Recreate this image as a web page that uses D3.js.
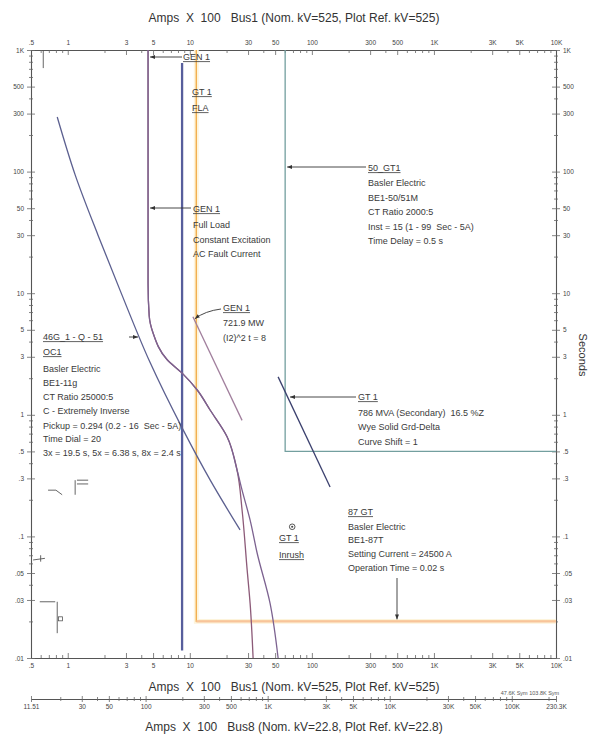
<!DOCTYPE html>
<html>
<head>
<meta charset="utf-8">
<script src="https://cdn.jsdelivr.net/npm/d3@7"></script>
<style>
  body { margin: 0; background: #fff; }
  svg { font-family: "Liberation Sans", Arial, sans-serif; }
</style>
</head>
<body>
<div id="graph"></div>
<script>
// Data ////////////////////////////////////////////////////////////////////
// Currents are Amps X 100 on Bus1 (525 kV), times in seconds
const kvRatio = 525 / 22.8;

const xTickValues = [0.5, 1, 3, 5, 10, 30, 50, 100, 300, 500, 1000, 3000, 5000, 10000];
const xTickLabels = [".5", "1", "3", "5", "10", "30", "50", "100", "300", "500", "1K", "3K", "5K", "10K"];

const yTickValues = [0.01, 0.03, 0.05, 0.1, 0.3, 0.5, 1, 3, 5, 10, 30, 50, 100, 300, 500, 1000];
const yTickLabels = [".01", ".03", ".05", ".1", ".3", ".5", "1", "3", "5", "10", "30", "50", "100", "300", "500", "1K"];

const bus8TickValues = [11.51, 30, 50, 100, 300, 500, 1000, 3000, 5000, 10000, 30000, 50000, 100000, 230300];
const bus8TickLabels = ["11.51", "30", "50", "100", "300", "500", "1K", "3K", "5K", "10K", "30K", "50K", "100K", "230.3K"];

// GEN 1 full load, constant excitation (two decrement curves sharing the top)
const gen1Common = [[4.55, 1000], [4.55, 12], [4.65, 6.5], [5.0, 4.7], [6.5, 2.85], [8.65, 2.2], [11.5, 1.6], [14.7, 1.09], [20.2, 0.66], [24.4, 0.35]];
const gen1BranchA = [[26.8, 0.165], [29.5, 0.053], [31.2, 0.028], [33, 0.01]];
const gen1BranchB = [[26.8, 0.24], [31.2, 0.136], [35.6, 0.073], [45.5, 0.028], [52.9, 0.01]];

// GEN 1 I2t = 8 damage
const gen1Damage = [[10.6, 6.4], [26.8, 0.9]];

// GT 1 damage curve
const gt1Damage = [[52.9, 2.05], [141, 0.255]];

// GT 1 FLA
const gt1Fla = [[8.644, 780], [8.644, 0.0115]];

// 46G_1 - Q - 51 OC1 extremely inverse
const oc1Curve = [[0.82, 281], [1.15, 94], [1.77, 30], [2.68, 10.6], [4.72, 2.7], [8.65, 0.78], [14.7, 0.29], [25.8, 0.113]];

// 50_GT1 instantaneous
const relay50 = [[60.4, 1000], [60.4, 0.5], [10000, 0.5]];

// 87 GT differential
const relay87 = [[11.3, 1000], [11.3, 0.02], [10000, 0.02]];

// GT 1 inrush point
const inrushPoint = [69, 0.12];

// small marks near the left axis
const smallMarks = [
  [[0.63, 1000], [0.63, 710]],
  [[0.69, 0.24], [0.8, 0.24]],
  [[0.8, 0.24], [0.9, 0.22]],
  [[1.15, 0.29], [1.15, 0.22]],
  [[1.19, 0.29], [1.47, 0.29]],
  [[1.19, 0.27], [1.47, 0.27]],
  [[0.52, 0.064], [0.65, 0.066]],
  [[0.6, 0.07], [0.6, 0.062]],
  [[0.59, 0.029], [0.79, 0.029]],
  [[0.82, 0.029], [0.82, 0.016]]
];

// Labels
const gen1TopLabel = ["GEN 1"];
const gt1FlaLabel = ["GT 1", "FLA"];
const gen1FullLabel = ["GEN 1", "Full Load", "Constant Excitation", "AC Fault Current"];
const gen1DamageLabel = ["GEN 1", "721.9 MW", "(I2)^2 t = 8"];
const relay50Label = ["50_GT1", "Basler Electric", "BE1-50/51M", "CT Ratio 2000:5", "Inst = 15 (1 - 99  Sec - 5A)", "Time Delay = 0.5 s"];
const gt1DamageLabel = ["GT 1", "786 MVA (Secondary)  16.5 %Z", "Wye Solid Grd-Delta", "Curve Shift = 1"];
const oc1Label = ["46G_1 - Q - 51", "OC1", "Basler Electric", "BE1-11g", "CT Ratio 25000:5", "C - Extremely Inverse", "Pickup = 0.294 (0.2 - 16  Sec - 5A)", "Time Dial = 20", "3x = 19.5 s, 5x = 6.38 s, 8x = 2.4 s"];
const relay87Label = ["87 GT", "Basler Electric", "BE1-87T", "Setting Current = 24500 A", "Operation Time = 0.02 s"];
const inrushLabel = ["GT 1", "Inrush"];

// Constants ////////////////////////////////////////////////////////////////
const svgWidth = 591;
const svgHeight = 735;
const plot = { left: 31, right: 556, top: 50, bottom: 658 };
const textColor = "#3a3a3a";

const svg = d3
  .select("#graph")
  .append("svg")
  .attr("width", svgWidth)
  .attr("height", svgHeight);

const x = d3.scaleLog().domain([0.5, 10000]).range([plot.left, plot.right]);
const y = d3.scaleLog().domain([0.01, 1000]).range([plot.bottom, plot.top]);
const x8 = d3.scaleLog().domain([0.5 * kvRatio, 10000 * kvRatio]).range([plot.left, plot.right]);

const defs = svg.append("defs");
defs.append("clipPath").attr("id", "plotClip")
  .append("rect")
  .attr("x", plot.left).attr("y", plot.top)
  .attr("width", plot.right - plot.left).attr("height", plot.bottom - plot.top);

defs.append("marker")
  .attr("id", "arrow")
  .attr("viewBox", "0 0 10 10")
  .attr("refX", 10).attr("refY", 5)
  .attr("markerWidth", 5).attr("markerHeight", 5)
  .attr("markerUnits", "userSpaceOnUse")
  .attr("orient", "auto")
  .append("path")
  .attr("d", "M0,1 L10,5 L0,9 Z")
  .attr("fill", "#333");

// Axes /////////////////////////////////////////////////////////////////////
function logTicks(lo, hi) {
  const out = [];
  for (let e = -3; e <= 6; e++) {
    for (let k = 1; k <= 9; k++) {
      const v = +(k * Math.pow(10, e)).toPrecision(3);
      if (v >= lo * 0.999 && v <= hi * 1.001) out.push(v);
    }
  }
  return out;
}

function labeler(values, labels) {
  return d => {
    const i = values.findIndex(v => Math.abs(v / d - 1) < 1e-3);
    return i >= 0 ? labels[i] : "";
  };
}

const fmtX = labeler(xTickValues, xTickLabels);
const fmtY = labeler(yTickValues, yTickLabels);
const fmt8 = labeler(bus8TickValues, bus8TickLabels);

function styleAxis(g) {
  g.select(".domain").attr("stroke", "#555").attr("stroke-width", 1.1);
  g.selectAll(".tick line").attr("stroke", "#666").attr("stroke-width", 0.8);
  g.selectAll(".tick text")
    .attr("fill", "#444")
    .style("font-size", "6.5px")
    .style("font-family", "\"Liberation Sans\", Arial, sans-serif");
}

const xMinor = logTicks(0.5, 10000);
const yMinor = logTicks(0.01, 1000);
const bus8Minor = [11.51].concat(logTicks(20, 200000)).concat([230300]);

// top
svg.append("g")
  .attr("transform", `translate(0,${plot.top})`)
  .call(d3.axisTop(x).tickValues(xMinor).tickSizeInner(-3).tickSizeOuter(0).tickPadding(5.5).tickFormat(fmtX))
  .call(styleAxis)
  .call(g => g.selectAll(".tick").filter(d => fmtX(d) !== "").select("line").attr("y2", 5));

// bottom
svg.append("g")
  .attr("transform", `translate(0,${plot.bottom})`)
  .call(d3.axisBottom(x).tickValues(xMinor).tickSizeInner(-3).tickSizeOuter(0).tickPadding(5).tickFormat(fmtX))
  .call(styleAxis)
  .call(g => g.selectAll(".tick").filter(d => fmtX(d) !== "").select("line").attr("y2", -5));

// left
svg.append("g")
  .attr("transform", `translate(${plot.left},0)`)
  .call(d3.axisLeft(y).tickValues(yMinor).tickSizeInner(3).tickSizeOuter(0).tickPadding(4).tickFormat(fmtY))
  .call(styleAxis)
  .call(g => g.selectAll(".tick line").attr("x1", 2).attr("x2", -2))
  .call(g => g.selectAll(".tick").filter(d => fmtY(d) !== "").select("line").attr("x1", 4).attr("x2", -4));

// right
svg.append("g")
  .attr("transform", `translate(${plot.right},0)`)
  .call(d3.axisRight(y).tickValues(yMinor).tickSizeInner(3).tickSizeOuter(0).tickPadding(4).tickFormat(fmtY))
  .call(styleAxis)
  .call(g => g.selectAll(".tick line").attr("x1", -2).attr("x2", 2))
  .call(g => g.selectAll(".tick").filter(d => fmtY(d) !== "").select("line").attr("x1", -4).attr("x2", 4));

// Bus8 secondary axis
svg.append("g")
  .attr("transform", "translate(0,699)")
  .call(d3.axisBottom(x8).tickValues(bus8Minor).tickSizeInner(2).tickSizeOuter(0).tickPadding(3).tickFormat(fmt8))
  .call(styleAxis)
  .call(g => g.selectAll(".tick line").attr("y1", -2))
  .call(g => g.selectAll(".tick").filter(d => fmt8(d) !== "").select("line").attr("y1", -3).attr("y2", 3));

svg.append("text")
  .attr("x", 530).attr("y", 695)
  .attr("text-anchor", "middle")
  .attr("fill", "#555")
  .style("font-size", "5.5px")
  .text("47.6K Sym 103.8K Sym");

// Titles
const titleTop = "Amps  X  100   Bus1 (Nom. kV=525, Plot Ref. kV=525)";
const titleBus8 = "Amps  X  100   Bus8 (Nom. kV=22.8, Plot Ref. kV=22.8)";
[[titleTop, 22], [titleTop, 691], [titleBus8, 731]].forEach(([t, ty]) => {
  svg.append("text")
    .attr("x", 294).attr("y", ty)
    .attr("text-anchor", "middle")
    .attr("fill", "#333")
    .style("font-size", "12px")
    .style("white-space", "pre")
    .text(t);
});

svg.append("text")
  .attr("transform", "translate(579,355) rotate(90)")
  .attr("text-anchor", "middle")
  .attr("fill", "#333")
  .style("font-size", "11px")
  .text("Seconds");

// Curves ///////////////////////////////////////////////////////////////////
const chart = svg.append("g").attr("clip-path", "url(#plotClip)");

const straight = d3.line().x(d => x(d[0])).y(d => y(d[1]));
const smooth = d3.line().x(d => x(d[0])).y(d => y(d[1])).curve(d3.curveMonotoneY);

function drawPath(data, gen, color, width, halo) {
  if (halo) {
    chart.append("path")
      .attr("d", gen(data))
      .attr("fill", "none")
      .attr("stroke", halo)
      .attr("stroke-width", width + 3.5);
  }
  chart.append("path")
    .attr("d", gen(data))
    .attr("fill", "none")
    .attr("stroke", color)
    .attr("stroke-width", width)
    .attr("stroke-linejoin", "round");
}

drawPath(relay87, straight, "#f2b04e", 1.4, "#fdf4dc");
chart.append("path")
  .attr("d", straight(relay87.slice(1)))
  .attr("fill", "none")
  .attr("stroke", "#f8c49a")
  .attr("stroke-width", 2.2);

drawPath(relay50, straight, "#739f9f", 1.3);
drawPath(gt1Fla, straight, "#575e9c", 2.3);
drawPath(gen1Common.concat(gen1BranchA), smooth, "#8c5a78", 1.3);
drawPath(gen1Common.concat(gen1BranchB), smooth, "#7c6290", 1.3);
drawPath(gen1Damage, straight, "#a17f9d", 1.3);
drawPath(gt1Damage, straight, "#3b406e", 1.3);
drawPath(oc1Curve, smooth, "#5c6090", 1.3);

smallMarks.forEach(m => drawPath(m, straight, "#555", 0.9));
chart.append("rect")
  .attr("x", x(0.84)).attr("y", y(0.021) - 2)
  .attr("width", 4).attr("height", 4)
  .attr("fill", "none").attr("stroke", "#555").attr("stroke-width", 0.8);

// inrush marker
chart.append("circle")
  .attr("cx", x(inrushPoint[0])).attr("cy", y(inrushPoint[1]))
  .attr("r", 2.8)
  .attr("fill", "none").attr("stroke", "#444").attr("stroke-width", 0.9);
chart.append("circle")
  .attr("cx", x(inrushPoint[0])).attr("cy", y(inrushPoint[1]))
  .attr("r", 1.1)
  .attr("fill", "#444");

// Annotations //////////////////////////////////////////////////////////////
function drawNote(lines, px, ys, underlined) {
  const g = svg.append("g");
  lines.forEach((t, i) => {
    const txt = g.append("text")
      .attr("x", px).attr("y", ys[i])
      .attr("dy", "0.35em")
      .attr("fill", textColor)
      .style("font-size", "9px")
      .style("white-space", "pre")
      .text(t);
    if (i < underlined) {
      const w = txt.node().getComputedTextLength();
      g.append("line")
        .attr("x1", px).attr("x2", px + w)
        .attr("y1", ys[i] + 4.6).attr("y2", ys[i] + 4.6)
        .attr("stroke", textColor).attr("stroke-width", 0.8);
    }
  });
}

function drawArrow(x1, y1, x2, y2) {
  svg.append("line")
    .attr("x1", x1).attr("y1", y1).attr("x2", x2).attr("y2", y2)
    .attr("stroke", "#333").attr("stroke-width", 0.9)
    .attr("marker-end", "url(#arrow)");
}

drawNote(gen1TopLabel, 183, [57], 1);
drawArrow(182, 57, x(4.55) + 2, 57);

drawNote(gt1FlaLabel, 192, [92, 108], 2);

drawNote(gen1FullLabel, 193, [209, 225, 240, 254], 1);
drawArrow(191, 208, x(4.55) + 2, 208);

drawNote(gen1DamageLabel, 223, [308, 323, 338], 1);
svg.append("path")
  .attr("d", `M221,309 Q205,311 ${x(10.6) + 2},${y(6.4) + 2}`)
  .attr("fill", "none").attr("stroke", "#333").attr("stroke-width", 0.9)
  .attr("marker-end", "url(#arrow)");

drawNote(relay50Label, 368, [168, 183, 198, 212, 227, 241], 1);
drawArrow(366, 167, x(60.4) + 2, 167);

drawNote(gt1DamageLabel, 358, [397, 413, 427, 442], 1);
drawArrow(356, 397, 290, 397);

drawNote(oc1Label, 43, [337, 352, 369, 383, 397, 411, 426, 439, 453], 2);
drawArrow(129, 337, 138, 337);

drawNote(relay87Label, 348, [512, 527, 540, 554, 568], 1);
drawArrow(397, 578, 397, y(0.02) - 2);

drawNote(inrushLabel, 279, [538, 555], 2);
</script>
</body>
</html>
